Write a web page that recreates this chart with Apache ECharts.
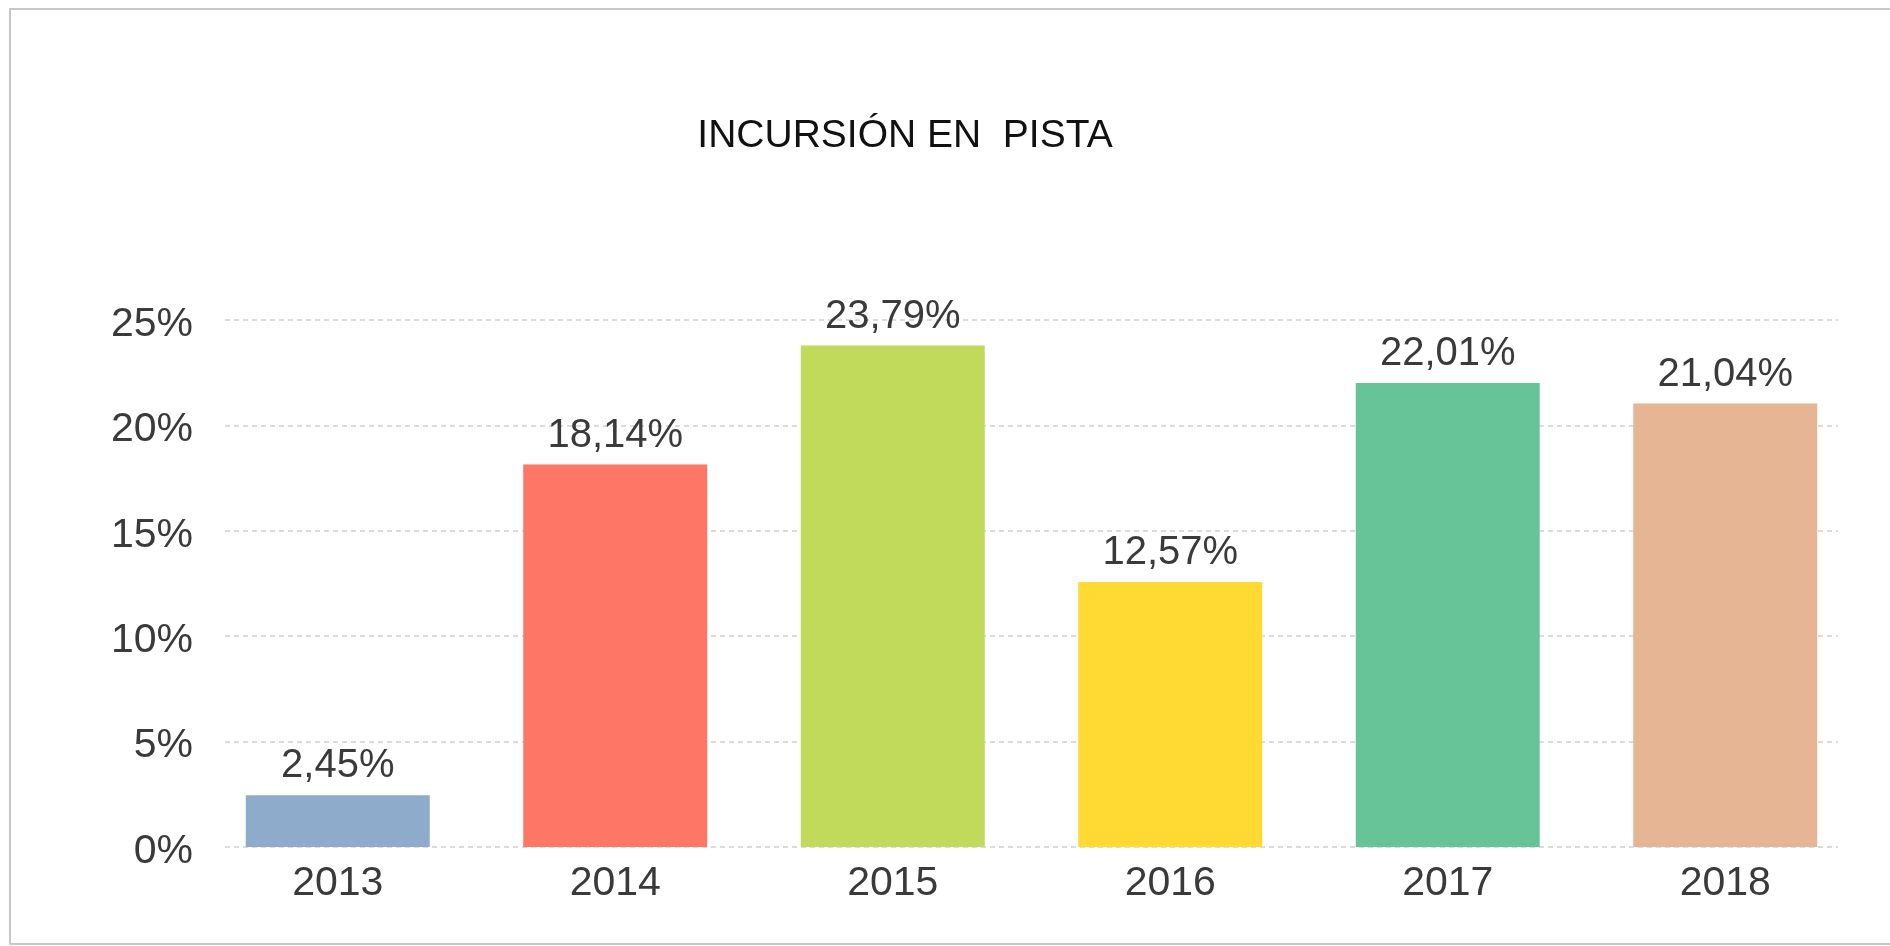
<!DOCTYPE html>
<html>
<head>
<meta charset="utf-8">
<title>Incursión en pista</title>
<script src="https://cdn.jsdelivr.net/npm/echarts@6/dist/echarts.min.js"></script>
<style>
    html, body { margin: 0; padding: 0; background: #fff; }
    #chart { width: 1890px; height: 946px; }
</style>
</head>
<body>
<div id="chart"></div>
<script>
// datos del grafico
const years = ['2013', '2014', '2015', '2016', '2017', '2018'];
const values = [2.45, 18.14, 23.79, 12.57, 22.01, 21.04];
const barColors = ['#8FABCB', '#FE7665', '#C1DA5B', '#FFDA33', '#67C499', '#E5B594'];
const yTicks = [0, 5, 10, 15, 20, 25];

const textColor = '#3a3a3a';
const font = 'Liberation Sans, Arial, sans-serif';

// formato con coma decimal
function pct(v) {
    return v.toFixed(2).replace('.', ',') + '%';
}

var myChart = echarts.init(document.getElementById('chart'));

var option = {
    backgroundColor: '#fff',
    animation: false,
    title: {
        text: 'INCURSIÓN EN  PISTA',
        left: 900,
        textAlign: 'center',
        top: 112,
        textStyle: {
            fontFamily: font,
            fontSize: 39,
            fontWeight: 'normal',
            color: '#111'
        }
    },
    graphic: [{
        type: 'rect',
        shape: { x: 10, y: 9, width: 1900, height: 935 },
        style: { fill: 'none', stroke: '#c8c8c8', lineWidth: 2 },
        z: -1
    }],
    grid: [
        // barras
        { left: 199, right: 26, top: 320, bottom: 99 },
        // lineas de guia
        { left: 225, right: 52, top: 320, bottom: 99 }
    ],
    xAxis: [
        {
            type: 'category',
            gridIndex: 0,
            data: years,
            axisLine: { show: false },
            axisTick: { show: false },
            axisLabel: {
                margin: 16,
                fontFamily: font,
                fontSize: 41,
                color: textColor
            }
        },
        {
            type: 'value',
            gridIndex: 1,
            show: false,
            min: 0,
            max: 1
        }
    ],
    yAxis: [
        {
            type: 'value',
            gridIndex: 0,
            min: 0,
            max: 25,
            show: false
        },
        {
            type: 'value',
            gridIndex: 1,
            min: yTicks[0],
            max: yTicks[yTicks.length - 1],
            interval: 5,
            axisLine: { show: false },
            axisTick: { show: false },
            axisLabel: {
                margin: 32,
                formatter: '{t|{value}%}',
                rich: {
                    t: {
                        fontFamily: font,
                        fontSize: 41,
                        color: textColor,
                        padding: [9, 0, 0, 0]
                    }
                }
            },
            splitLine: {
                show: true,
                lineStyle: { color: '#d0d0d0', width: 1.5, type: [5, 4] }
            }
        }
    ],
    series: [{
        type: 'bar',
        xAxisIndex: 0,
        yAxisIndex: 0,
        barWidth: 184,
        data: values.map(function (v, i) {
            return { value: v, itemStyle: { color: barColors[i] } };
        }),
        label: {
            show: true,
            position: 'top',
            distance: 9,
            fontFamily: font,
            fontSize: 40,
            color: textColor,
            formatter: function (p) { return pct(p.value); }
        }
    }]
};

myChart.setOption(option);
</script>
</body>
</html>
